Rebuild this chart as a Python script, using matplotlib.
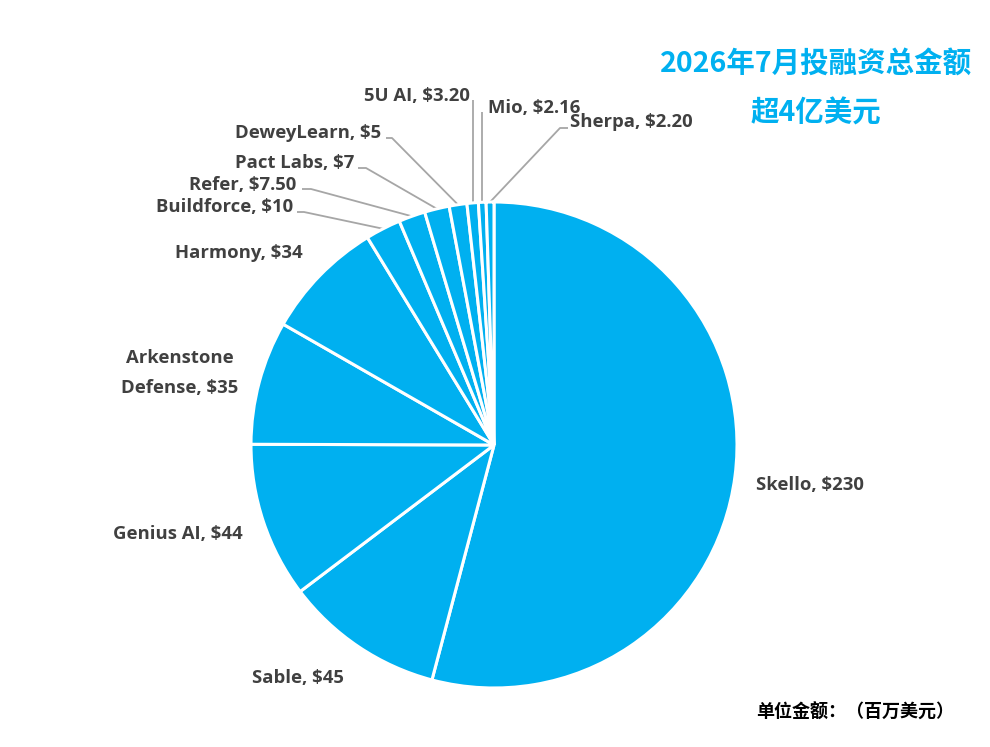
import numpy as np
import matplotlib.pyplot as plt

# 数据（百万美元）
companies = ['Skello', 'Sable', 'Genius AI', 'Arkenstone\nDefense', 'Harmony',
             'Buildforce', 'Refer', 'Pact Labs', 'DeweyLearn', '5U AI', 'Mio', 'Sherpa']
amounts = [230, 45, 44, 35, 34, 10, 7.5, 7, 5, 3.2, 2.16, 2.2]
amount_labels = ['$230', '$45', '$44', '$35', '$34', '$10', '$7.50', '$7', '$5',
                 '$3.20', '$2.16', '$2.20']

title_lines = ['2026年7月投融资总金额', '超4亿美元']
unit_note = '单位金额：（百万美元）'

W, H = 990, 747
BLUE = '#00B0F0'
GREY = '#404040'
LINE = '#A6A6A6'
cx, cy, R = 494, 445, 243

fig = plt.figure(figsize=(W / 100, H / 100), dpi=100)
ax = fig.add_axes([0, 0, 1, 1])

wedges, _ = ax.pie(amounts, startangle=90, counterclock=False,
                   center=(cx, H - cy), radius=R, colors=[BLUE] * len(amounts),
                   wedgeprops=dict(edgecolor='white', linewidth=2.2))
ax.set_xlim(0, W)
ax.set_ylim(0, H)
ax.set_aspect('equal')
ax.axis('off')

lab_font = dict(family=['Open Sans', 'DejaVu Sans'], fontsize=13.3,
                fontweight='bold', color=GREY)

# 标签位置（像素，y 向下），ha
label_pos = {
    'Skello': (756, 485, 'left'),
    'Sable': (298, 678, 'center'),
    'Genius AI': (178, 534, 'center'),
    'Arkenstone\nDefense': (180, 373, 'center'),
    'Harmony': (239, 253, 'center'),
    'Buildforce': (293, 207, 'right'),
    'Refer': (296, 185, 'right'),
    'Pact Labs': (354, 163, 'right'),
    'DeweyLearn': (381, 133, 'right'),
    '5U AI': (470, 96, 'right'),
    'Mio': (488, 108, 'left'),
    'Sherpa': (570, 122, 'left'),
}
# 引导线起点（像素），elbow = 水平折线
leader = {
    'Buildforce': [(297, 212), (304, 212)],
    'Refer': [(302, 189), (311, 189)],
    'Pact Labs': [(358, 168), (366, 168)],
    'DeweyLearn': [(386, 138), (392, 138)],
    '5U AI': 'v100',
    'Mio': 'v112',
    'Sherpa': [(568, 128), (560, 128)],
}

for w, name, amt in zip(wedges, companies, amount_labels):
    x, y, ha = label_pos[name]
    ax.text(x, H - y, f'{name}, {amt}', ha=ha, va='center',
            linespacing=1.85, **lab_font)
    if name in leader:
        mid = np.deg2rad((w.theta1 + w.theta2) / 2)
        axp = cx + R * np.cos(mid)
        ayp = (H - cy) + R * np.sin(mid)
        spec = leader[name]
        if isinstance(spec, str):
            pts = [(axp, H - int(spec[1:])), (axp, ayp)]
        else:
            pts = [(px, H - py) for px, py in spec] + [(axp, ayp)]
        xs, ys = zip(*pts)
        ax.plot(xs, ys, color=LINE, lw=1.3, solid_capstyle='butt', zorder=0)

cjk = ['Noto Sans CJK SC', 'DejaVu Sans']
ax.text(816, H - 64, title_lines[0], ha='center', va='center', family=cjk,
        fontsize=20.5, fontweight='bold', color=BLUE)
ax.text(816, H - 113, title_lines[1], ha='center', va='center', family=cjk,
        fontsize=20.5, fontweight='bold', color=BLUE)
ax.text(855, H - 712, unit_note, ha='center', va='center', family=cjk,
        fontsize=13, fontweight='bold', color='black')

fig.savefig('out.png', dpi=100)
